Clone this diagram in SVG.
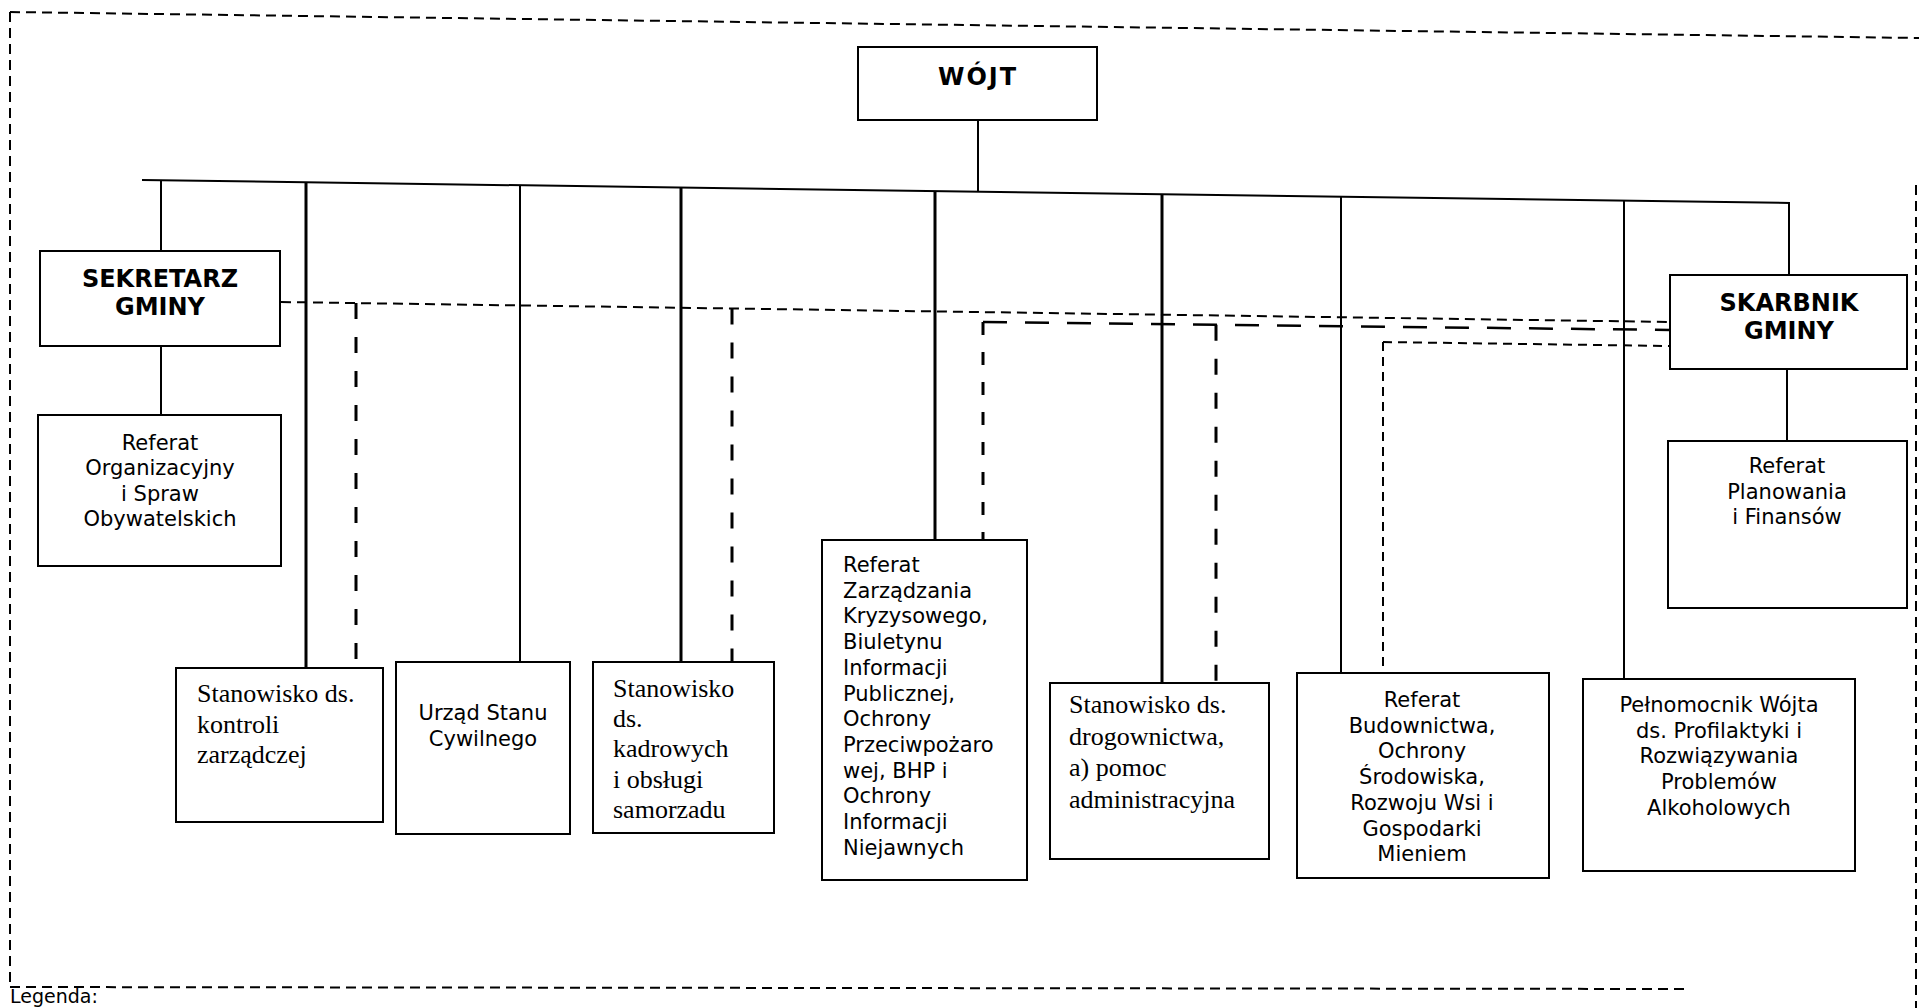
<svg xmlns="http://www.w3.org/2000/svg" width="1919" height="1008" viewBox="0 0 1919 1008">
<style>
.box{fill:#fff;stroke:#000;stroke-width:2}
.ln{stroke:#000;stroke-width:2;fill:none}
.thk{stroke:#000;stroke-width:3;fill:none}
.dA{stroke:#000;stroke-width:2;fill:none;stroke-dasharray:10 6}
.dV{stroke:#000;stroke-width:3;fill:none;stroke-dasharray:16 18}
.dB{stroke:#000;stroke-width:2.5;fill:none;stroke-dasharray:24 18}
.dC{stroke:#000;stroke-width:2;fill:none;stroke-dasharray:9 6}
.frame{stroke:#000;stroke-width:2;fill:none;stroke-dasharray:10 6}
.s{font-family:"DejaVu Sans",Verdana,sans-serif;font-size:21px;fill:#000}
.c{text-anchor:middle}
.b{font-family:"DejaVu Sans",Verdana,sans-serif;font-size:24px;font-weight:bold;fill:#000;text-anchor:middle}
.r{font-family:"Liberation Serif","Times New Roman",serif;font-size:26px;fill:#000}
</style>
<rect width="1919" height="1008" fill="#fff"/>
<g id="frame">
<path class="frame" d="M10,12 L1919,38"/>
<path class="frame" d="M10,12 L10,988"/>
<path class="frame" d="M10,987 L1690,989"/>
<path class="frame" d="M1916,185 L1916,1008"/>
<text class="s" x="10" y="1003" style="font-size:19px">Legenda:</text>
</g>
<g id="connectors">
<path class="ln" d="M978,120 L978,191.7"/>
<path class="ln" d="M142,180 L1790,203"/>
<path class="ln" d="M161,180.3 L161,251"/>
<path class="thk" d="M306,182.3 L306,668"/>
<path class="ln" d="M520,185.3 L520,662"/>
<path class="thk" d="M681,187.5 L681,662"/>
<path class="thk" d="M935,191.1 L935,540"/>
<path class="thk" d="M1162,194.2 L1162,683"/>
<path class="ln" d="M1341,196.7 L1341,673"/>
<path class="ln" d="M1624,200.7 L1624,679"/>
<path class="ln" d="M1789,203 L1789,275"/>
<path class="ln" d="M161,347 L161,415"/>
<path class="ln" d="M1787,370 L1787,441"/>
<path class="dA" d="M281,302 L1670,322"/>
<path class="dV" d="M356,303 L356,668"/>
<path class="dV" d="M732,308.5 L732,662"/>
<path class="dB" d="M983,322 L1670,330"/>
<path class="dV" d="M983,322 L983,540" style="stroke-dasharray:13 17"/>
<path class="dV" d="M1216,324.7 L1216,683"/>
<path class="dC" d="M1383,342 L1670,346"/>
<path class="dC" d="M1383,342 L1383,673"/>
</g>
<g id="wojt">
<rect class="box" x="858" y="47" width="239" height="73"/>
<text class="b" x="978" y="85" style="letter-spacing:2px">WÓJT</text>
</g>
<g id="sekretarz">
<rect class="box" x="40" y="251" width="240" height="95"/>
<text class="b" x="160" y="287">SEKRETARZ</text>
<text class="b" x="160" y="315">GMINY</text>
</g>
<g id="skarbnik">
<rect class="box" x="1670" y="275" width="237" height="94"/>
<text class="b" x="1789" y="311">SKARBNIK</text>
<text class="b" x="1789" y="339">GMINY</text>
</g>
<g id="ref-organizacyjny">
<rect class="box" x="38" y="415" width="243" height="151"/>
<text class="s c" x="160" y="450">Referat</text>
<text class="s c" x="160" y="475">Organizacyjny</text>
<text class="s c" x="160" y="501">i Spraw</text>
<text class="s c" x="160" y="526">Obywatelskich</text>
</g>
<g id="ref-planowania">
<rect class="box" x="1668" y="441" width="239" height="167"/>
<text class="s c" x="1787" y="473">Referat</text>
<text class="s c" x="1787" y="499">Planowania</text>
<text class="s c" x="1787" y="524">i Finansów</text>
</g>
<g id="st-kontroli">
<rect class="box" x="176" y="668" width="207" height="154"/>
<text class="r" x="197" y="702">Stanowisko ds.</text>
<text class="r" x="197" y="733">kontroli</text>
<text class="r" x="197" y="763">zarządczej</text>
</g>
<g id="usc">
<rect class="box" x="396" y="662" width="174" height="172"/>
<text class="s c" x="483" y="720">Urząd Stanu</text>
<text class="s c" x="483" y="746">Cywilnego</text>
</g>
<g id="st-kadrowych">
<rect class="box" x="593" y="662" width="181" height="171"/>
<text class="r" x="613" y="697">Stanowisko</text>
<text class="r" x="613" y="727">ds.</text>
<text class="r" x="613" y="757">kadrowych</text>
<text class="r" x="613" y="788">i obsługi</text>
<text class="r" x="613" y="818">samorzadu</text>
</g>
<g id="ref-zarzadzania">
<rect class="box" x="822" y="540" width="205" height="340"/>
<text class="s" x="843" y="572">Referat</text>
<text class="s" x="843" y="597.7">Zarządzania</text>
<text class="s" x="843" y="623.4">Kryzysowego,</text>
<text class="s" x="843" y="649.1">Biuletynu</text>
<text class="s" x="843" y="674.8">Informacji</text>
<text class="s" x="843" y="700.5">Publicznej,</text>
<text class="s" x="843" y="726.2">Ochrony</text>
<text class="s" x="843" y="751.9">Przeciwpożaro</text>
<text class="s" x="843" y="777.6">wej, BHP i</text>
<text class="s" x="843" y="803.3">Ochrony</text>
<text class="s" x="843" y="829">Informacji</text>
<text class="s" x="843" y="854.7">Niejawnych</text>
</g>
<g id="st-drogownictwa">
<rect class="box" x="1050" y="683" width="219" height="176"/>
<text class="r" x="1069" y="713">Stanowisko ds.</text>
<text class="r" x="1069" y="745">drogownictwa,</text>
<text class="r" x="1069" y="776">a) pomoc</text>
<text class="r" x="1069" y="808">administracyjna</text>
</g>
<g id="ref-budownictwa">
<rect class="box" x="1297" y="673" width="252" height="205"/>
<text class="s c" x="1422" y="707">Referat</text>
<text class="s c" x="1422" y="733">Budownictwa,</text>
<text class="s c" x="1422" y="758">Ochrony</text>
<text class="s c" x="1422" y="784">Środowiska,</text>
<text class="s c" x="1422" y="810">Rozwoju Wsi i</text>
<text class="s c" x="1422" y="836">Gospodarki</text>
<text class="s c" x="1422" y="861">Mieniem</text>
</g>
<g id="pelnomocnik">
<rect class="box" x="1583" y="679" width="272" height="192"/>
<text class="s c" x="1719" y="712">Pełnomocnik Wójta</text>
<text class="s c" x="1719" y="738">ds. Profilaktyki i</text>
<text class="s c" x="1719" y="763">Rozwiązywania</text>
<text class="s c" x="1719" y="789">Problemów</text>
<text class="s c" x="1719" y="815">Alkoholowych</text>
</g>
</svg>
